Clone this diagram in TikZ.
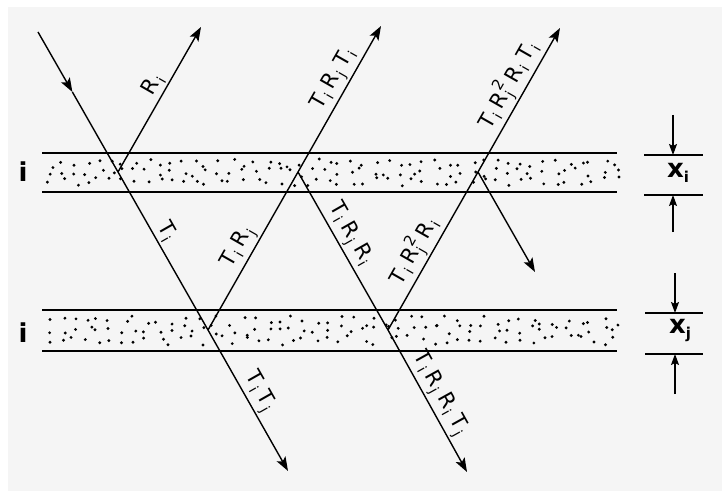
\documentclass[tikz,border=0pt]{standalone}
\usepackage{fontspec}
\setmainfont{DejaVu Sans}
\usetikzlibrary{arrows.meta,calc}
\newcommand\lsub[1]{\kern1.5pt\raisebox{-4.5pt}{\fontsize{14}{14}\selectfont #1}\kern5pt}
\newcommand\lsubsup[2]{\kern1.5pt\rlap{\raisebox{-4.5pt}{\fontsize{14}{14}\selectfont #1}}\raisebox{10pt}{\fontsize{15}{15}\selectfont #2}\kern4pt}
\begin{document}
\begin{tikzpicture}[x=1pt,y=-1pt,
  ray/.style={line width=1.4pt},
  band/.style={line width=1.6pt},
  tip/.style={-{Stealth[length=14pt,width=10pt,inset=3pt]}},
  dimtip/.style={-{Stealth[length=11pt,width=8pt,inset=2pt]}},
  lab/.style={sloped,above,font=\fontsize{21}{21}\selectfont,inner sep=2pt},
  sidelab/.style={font=\fontsize{26}{26}\selectfont\bfseries,inner sep=0pt}]
\useasboundingbox (0,0) rectangle (728,497);
\fill[white] (0,0) rectangle (728,497);
\fill[black!4] (8,7) rectangle (722,491);
% dotted bands
\pgfmathsetseed{11}
\foreach \yt/\h in {153/39,310/41}{
  \foreach \k in {0,...,47}{
    \foreach \r in {0,1,2}{
      \pgfmathsetmacro\dx{47+12*\k+rnd*9}
      \pgfmathsetmacro\dy{\yt+6+\r*(\h-12)/3+rnd*(\h-12)/3}
      \fill (\dx,\dy) circle (1.6pt);
    }}}
\draw[band] (42,153) -- (617,153);
\draw[band] (42,192) -- (617,192);
\draw[band] (42,310) -- (617,310);
\draw[band] (42,351) -- (617,351);
\node[sidelab] (li) at (23,172) {i};
\node[sidelab] (lj) at (23,333) {i};
% rays
\coordinate (S) at (38,32);
\coordinate (M) at (72.4,92);
\coordinate (P1) at (118,172);
\coordinate (Q1) at (208,330);
\coordinate (P2) at (298,172);
\coordinate (Q2) at (388,330);
\coordinate (P3) at (478,172);
\coordinate (E1) at (201,27);
\coordinate (E2) at (381,26);
\coordinate (E3) at (560,28);
\coordinate (E4) at (288,471);
\coordinate (E5) at (467,472);
\coordinate (E6) at (535,272);
\draw[ray,tip] (S) -- (M);
\draw[ray] (M) -- (P1);
\draw[ray,tip] (P1) -- node[lab,pos=0.57] (l1) {R\lsub{i}} (E1);
\draw[ray] (P1) -- node[lab,pos=0.43] (l2) {T\lsub{i}} (Q1);
\draw[ray,tip] (Q1) -- node[lab,pos=0.5] (l3) {T\lsub{i}T\lsub{j}} (E4);
\draw[ray] (Q1) -- node[lab,pos=0.49] (l4) {T\lsub{i}R\lsub{j}} (P2);
\draw[ray,tip] (P2) -- node[lab,pos=0.6] (l5) {T\lsub{i}R\lsub{j}T\lsub{i}} (E2);
\draw[ray] (P2) -- node[lab,pos=0.45] (l6) {T\lsub{i}R\lsub{j}R\lsub{i}} (Q2);
\draw[ray,tip] (Q2) -- node[lab,pos=0.51] (l7) {T\lsub{i}R\lsub{j}R\lsub{i}T\lsub{j}} (E5);
\draw[ray] (Q2) -- node[lab,pos=0.46] (l8) {T\lsub{i}R\lsubsup{j}{2}R\lsub{i}} (P3);
\draw[ray,tip] (P3) -- node[lab,pos=0.56] (l9) {T\lsub{i}R\lsubsup{j}{2}R\lsub{i}T\lsub{i}} (E3);
\draw[ray,tip] (P3) -- (E6);
% thickness markers
\draw[band] (644,155) -- (703,155);
\draw[band] (644,195) -- (703,195);
\coordinate (A1) at (673,115); \coordinate (A2) at (673,155);
\coordinate (A3) at (673,232); \coordinate (A4) at (673,195);
\draw[ray,dimtip] (A1) -- (A2);
\draw[ray,dimtip] (A3) -- (A4);
\node[sidelab] (xi) at (678,173) {x\raisebox{-5pt}{\fontsize{15}{15}\selectfont i}};
\draw[band] (645,313) -- (703,313);
\draw[band] (645,354) -- (703,354);
\coordinate (B1) at (675,273); \coordinate (B2) at (675,313);
\coordinate (B3) at (675,394); \coordinate (B4) at (675,354);
\draw[ray,dimtip] (B1) -- (B2);
\draw[ray,dimtip] (B3) -- (B4);
\node[sidelab] (xj) at (680,331) {x\raisebox{-5pt}{\fontsize{15}{15}\selectfont j}};
\end{tikzpicture}
\end{document}
